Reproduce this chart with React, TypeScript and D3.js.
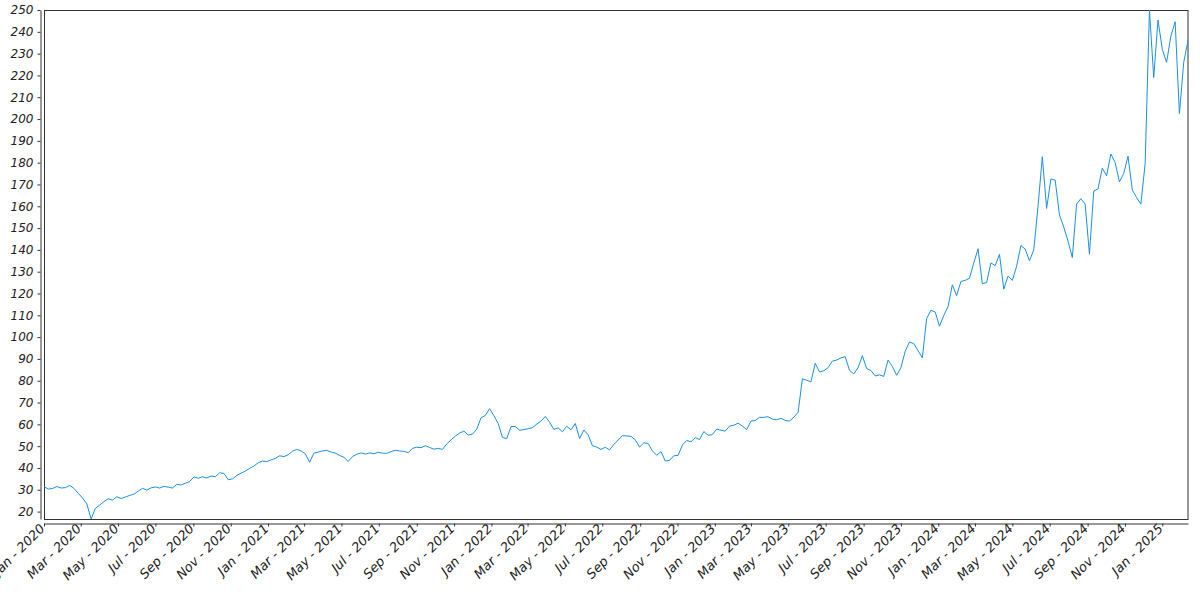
import * as d3 from 'd3';
import React, { Component, RefObject } from 'react';

// weekly closing prices, first week starts 1 Jan 2020
const startDate = new Date(2020, 0, 1);

const prices2020 = [
    31.5, 30.3, 30.6, 31.5, 30.8, 31.0, 32.0, 30.6, 28.4, 26.2, 23.5, 16.6, 21.5, 23.0,
    24.6, 25.9, 25.3, 26.8, 26.0, 26.7, 27.4, 28.0, 29.4, 30.7, 29.8, 30.9, 31.3, 30.8,
    31.6, 31.2, 30.8, 32.5, 32.2, 33.0, 33.8, 35.9, 35.3, 36.0, 35.4, 36.3, 36.0, 37.8,
    37.5, 34.6, 35.0, 36.6, 37.6, 38.6, 39.8, 40.9, 42.4, 43.2, 42.9,
];
const prices2021 = [
    43.7, 44.4, 45.6, 45.2, 46.1, 47.7, 48.5, 47.8, 46.5, 42.6, 46.8, 47.3, 47.8, 48.1,
    47.3, 46.8, 45.7, 44.9, 43.0, 45.2, 46.3, 46.9, 46.4, 46.9, 46.5, 47.2, 46.8, 46.7,
    47.5, 48.1, 47.8, 47.6, 47.0, 49.0, 49.5, 49.3, 50.2, 49.4, 48.6, 49.0, 48.5, 51.0,
    52.9, 54.6, 56.0, 56.9, 55.1, 55.5, 57.8, 63.0, 64.1, 67.2,
];
const prices2022 = [
    64.0, 60.4, 54.0, 53.4, 59.0, 59.0, 57.3, 57.6, 58.0, 58.5, 60.1, 61.5, 63.6, 61.0,
    57.7, 58.4, 56.6, 59.1, 57.5, 60.4, 53.5, 57.4, 55.2, 50.2, 49.6, 48.5, 49.5, 48.3,
    50.8, 52.8, 54.8, 54.7, 54.5, 52.9, 49.6, 51.5, 51.2, 47.8, 45.8, 47.5, 43.2, 43.5,
    45.6, 45.8, 50.5, 52.6, 52.0, 53.9, 53.0, 56.7, 55.0, 55.3,
];
const prices2023 = [
    57.8, 57.3, 56.9, 59.2, 59.6, 60.5, 59.2, 57.6, 61.5, 61.8, 63.2, 63.2, 63.5, 62.4,
    62.1, 62.8, 61.8, 61.5, 63.3, 65.5, 80.9, 80.2, 79.5, 88.0, 84.0, 84.6, 86.0, 89.0,
    89.5, 90.5, 91.0, 84.8, 83.1, 86.0, 91.5, 85.6, 84.7, 82.2, 82.7, 82.0, 89.5, 86.5,
    82.5, 86.0, 93.5, 97.8, 97.0, 93.8, 90.5, 108.5, 112.3, 111.5,
];
const prices2024 = [
    105.0, 109.9, 114.0, 124.0, 119.0, 125.5, 126.0, 127.0, 134.0, 140.5, 124.5, 125.0,
    134.0, 132.8, 138.0, 122.0, 128.0, 126.0, 132.5, 142.0, 140.4, 135.0, 140.0, 160.0,
    182.7, 159.0, 172.5, 172.0, 156.0, 150.5, 144.0, 136.5, 161.0, 163.5, 161.0, 138.0,
    167.0, 168.0, 177.5, 174.0, 184.0, 180.0, 171.2, 175.0, 183.0, 167.5, 164.0, 161.0,
    179.5, 250.0, 219.0, 245.4,
];
const prices2025 = [232.0, 226.0, 238.0, 244.6, 202.5, 226.0, 236.0];

const prices = [...prices2020, ...prices2021, ...prices2022, ...prices2023, ...prices2024, ...prices2025];

const yTickValues = [20, 30, 40, 50, 60, 70, 80, 90, 100, 110, 120, 130, 140, 150, 160, 170, 180, 190, 200, 210, 220, 230, 240, 250];

interface Point {
    date: Date;
    value: number;
}

export default class App extends Component<{}> {
    private ref: RefObject<SVGGElement>;

    constructor(props: {}) {
        super(props);
        this.ref = React.createRef();
    }

    componentDidMount() {
        this.init();
    }

    init() {
        const left = 44;
        const right = 1188;
        const top = 10;
        const bottom = 519;
        const node = this.ref.current;
        const g = d3.select(node);
        g.selectAll('*').remove();

        const data: Point[] = prices.map((v, i) => ({ date: d3.timeDay.offset(startDate, i * 7), value: v }));

        const x = d3.scaleTime()
            .domain(d3.extent(data, d => d.date) as [Date, Date])
            .range([left, right]);
        const y = d3.scaleLinear()
            .domain(d3.extent(data, d => d.value) as [number, number])
            .range([bottom, top]);

        // plot frame
        g.append('rect')
            .attr('x', left + 0.5)
            .attr('y', top + 0.5)
            .attr('width', right - left - 0.5)
            .attr('height', bottom - top)
            .attr('fill', 'none')
            .attr('stroke', '#333');

        const yAxis = g.append('g')
            .attr('transform', 'translate(40.5,0)')
            .call(d3.axisLeft(y).tickValues(yTickValues).tickSize(3).tickSizeOuter(0).tickPadding(4));
        yAxis.selectAll('text')
            .style('font', 'italic 12px "DejaVu Sans"')
            .attr('fill', '#222');

        const xAxis = g.append('g')
            .attr('transform', 'translate(0,523.5)')
            .call(d3.axisBottom(x)
                .ticks(d3.timeMonth.every(2))
                .tickFormat(d => d3.timeFormat('%b - %Y')(d as Date))
                .tickSize(3)
                .tickSizeOuter(0));
        xAxis.selectAll('text')
            .style('font', 'italic 13px "DejaVu Sans"')
            .attr('fill', '#222')
            .attr('text-anchor', 'end')
            .attr('x', 0)
            .attr('y', 0)
            .attr('dy', 0)
            .attr('transform', 'translate(1,6) rotate(-45)');

        g.selectAll('.domain, .tick line').attr('stroke', '#333');

        const line = d3.line<Point>()
            .x(d => x(d.date))
            .y(d => y(d.value));

        g.append('path')
            .datum(data)
            .attr('d', line)
            .attr('fill', 'none')
            .attr('stroke', '#1a8fe6')
            .attr('stroke-width', 1);
    }

    render() {
        return (
            <svg
                width={1200}
                height={600}
                style={{ position: 'absolute', left: 0, top: 0 }}
            >
                <g ref={this.ref} />
            </svg>
        );
    }
}
